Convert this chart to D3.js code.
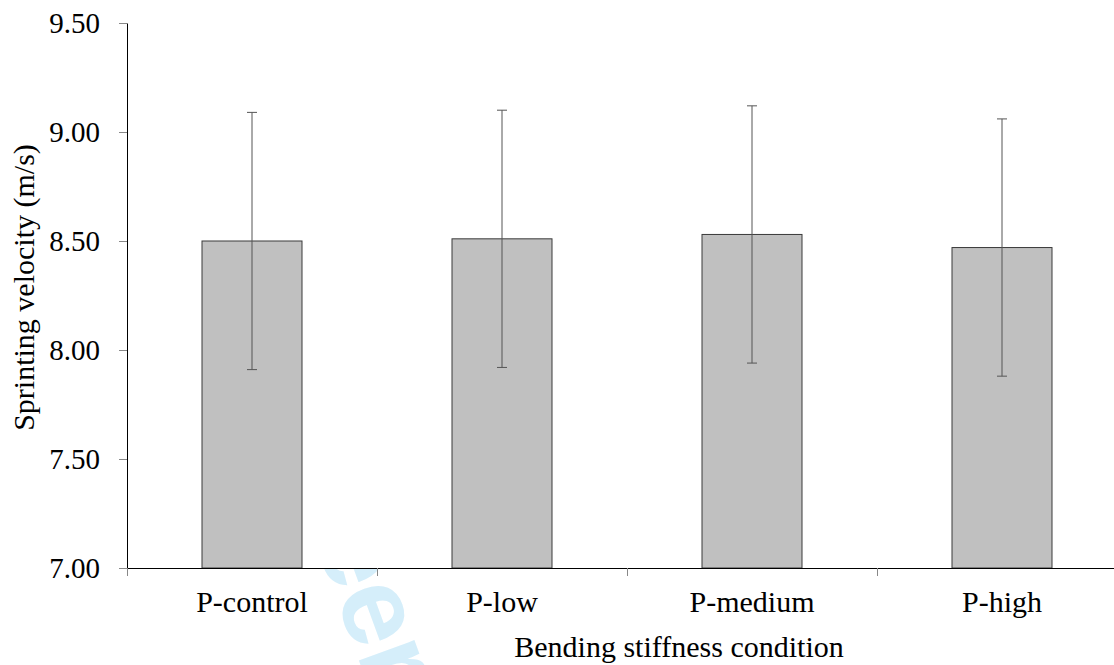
<!DOCTYPE html>
<html>
<head>
<meta charset="utf-8">
<script src="https://cdn.jsdelivr.net/npm/d3@7"></script>
</head>
<body style="margin:0">
<script>
// chart data
var conditions = ["P-control", "P-low", "P-medium", "P-high"];
var velocity = [8.50, 8.51, 8.53, 8.47];
var errHigh = [9.09, 9.10, 9.12, 9.06];
var errLow = [7.91, 7.92, 7.94, 7.88];
var yTicks = [7.00, 7.50, 8.00, 8.50, 9.00, 9.50];

var FONT = "Liberation Serif";
var W = 1114, H = 665;
var margin = { top: 23, right: 0, bottom: 97, left: 127 };
var width = 1000, height = H - margin.top - margin.bottom;

var svg = d3.select("body").append("svg")
    .attr("width", W)
    .attr("height", H);

// faint watermark sitting behind the chart
svg.append("text")
    .attr("transform", "translate(288,466) rotate(70)")
    .style("font-family", "Liberation Sans")
    .style("font-weight", "bold")
    .style("font-size", "112px")
    .attr("fill", "#d5eefa")
    .text("Peer");

var g = svg.append("g")
    .attr("transform", "translate(" + margin.left + "," + margin.top + ")");

// white plot area covers the watermark
g.append("rect")
    .attr("x", 0).attr("y", 0)
    .attr("width", W - margin.left).attr("height", height)
    .attr("fill", "#fff");

var x = d3.scaleBand().domain(conditions).range([0, width]).paddingInner(0.6).paddingOuter(0.3);
var xTickScale = d3.scaleBand().domain(conditions).range([0, width]);
var y = d3.scaleLinear().domain([7, 9.5]).range([height, 0]);

// bars
g.selectAll(".bar")
    .data(conditions)
    .enter().append("rect")
    .attr("class", "bar")
    .attr("x", function (d) { return x(d); })
    .attr("y", function (d, i) { return y(velocity[i]); })
    .attr("width", x.bandwidth())
    .attr("height", function (d, i) { return y(7) - y(velocity[i]); })
    .attr("fill", "#c0c0c0")
    .attr("stroke", "#3a3a3a")
    .attr("stroke-width", 1);

// error bars
var eb = g.selectAll(".err")
    .data(conditions)
    .enter().append("g")
    .attr("class", "err")
    .attr("stroke", "#555")
    .attr("stroke-width", 1);
eb.append("line")
    .attr("x1", function (d) { return x(d) + x.bandwidth() / 2; })
    .attr("x2", function (d) { return x(d) + x.bandwidth() / 2; })
    .attr("y1", function (d, i) { return y(errHigh[i]); })
    .attr("y2", function (d, i) { return y(errLow[i]); });
eb.append("line")
    .attr("x1", function (d) { return x(d) + x.bandwidth() / 2 - 5; })
    .attr("x2", function (d) { return x(d) + x.bandwidth() / 2 + 5; })
    .attr("y1", function (d, i) { return y(errHigh[i]); })
    .attr("y2", function (d, i) { return y(errHigh[i]); });
eb.append("line")
    .attr("x1", function (d) { return x(d) + x.bandwidth() / 2 - 5; })
    .attr("x2", function (d) { return x(d) + x.bandwidth() / 2 + 5; })
    .attr("y1", function (d, i) { return y(errLow[i]); })
    .attr("y2", function (d, i) { return y(errLow[i]); });

// y axis
var yAxis = d3.axisLeft(y).tickValues(yTicks).tickFormat(d3.format(".2f")).tickSizeInner(8).tickSizeOuter(0).tickPadding(19);
var ya = g.append("g").call(yAxis);
ya.select(".domain").attr("stroke", "#000");
ya.selectAll(".tick line").attr("stroke", "#888");
ya.selectAll("text")
    .style("font-family", FONT)
    .style("font-size", "29px")
    .attr("fill", "#000");

// x axis
var xa = g.append("g").attr("transform", "translate(0," + height + ")");
xa.append("line")
    .attr("x1", 0).attr("x2", W - margin.left)
    .attr("y1", 0.5).attr("y2", 0.5)
    .attr("stroke", "#000");
xa.selectAll(".xtick")
    .data(conditions)
    .enter().append("line")
    .attr("class", "xtick")
    .attr("x1", function (d) { return xTickScale(d) + 0.5; })
    .attr("x2", function (d) { return xTickScale(d) + 0.5; })
    .attr("y1", 0).attr("y2", 8)
    .attr("stroke", "#888");
xa.selectAll(".xlab")
    .data(conditions)
    .enter().append("text")
    .attr("class", "xlab")
    .attr("x", function (d) { return x(d) + x.bandwidth() / 2; })
    .attr("y", 44)
    .attr("text-anchor", "middle")
    .style("font-family", FONT)
    .style("font-size", "30px")
    .text(function (d) { return d; });

// axis titles
svg.append("text")
    .attr("x", 679)
    .attr("y", 657)
    .attr("text-anchor", "middle")
    .style("font-family", FONT)
    .style("font-size", "30px")
    .text("Bending stiffness condition");

svg.append("text")
    .attr("transform", "rotate(-90)")
    .attr("x", -(margin.top + height / 2) + 8)
    .attr("y", 34)
    .attr("text-anchor", "middle")
    .style("font-family", FONT)
    .style("font-size", "30px")
    .text("Sprinting velocity (m/s)");
</script>
</body>
</html>
